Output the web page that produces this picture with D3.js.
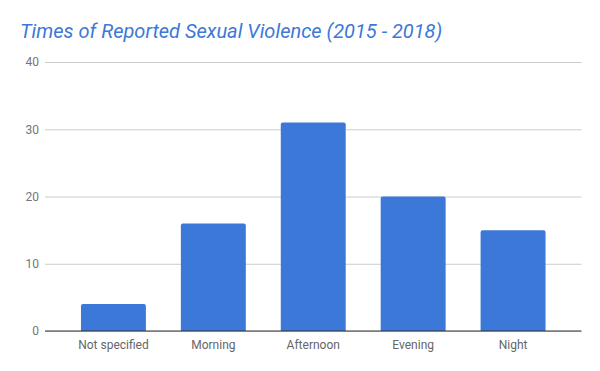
<!DOCTYPE html>
<html>
<head>
<meta charset="utf-8">
<script src="https://cdn.jsdelivr.net/npm/d3@7"></script>
<style>
  body { margin: 0; background: #fff; }
  svg { display: block; font-family: Roboto, "Noto Sans", sans-serif; }
</style>
</head>
<body>
<svg id="chart" width="600" height="371"></svg>
<script>
// data
var categories = ['Not specified', 'Morning', 'Afternoon', 'Evening', 'Night'];
var counts = [4, 16, 31, 20, 15];
var yTicks = [0, 10, 20, 30, 40];

var svg = d3.select('#chart');
var plotLeft = 45, plotRight = 581.5, plotTop = 62, plotBottom = 331;

var x = d3.scaleBand()
  .domain(categories)
  .range([plotLeft, plotRight])
  .paddingInner(0.35)
  .paddingOuter(0.36);

var y = d3.scaleLinear()
  .domain([0, 40])
  .range([plotBottom, plotTop]);

// title
svg.append('text')
  .attr('x', 20)
  .attr('y', 38)
  .attr('fill', '#3c78d8')
  .attr('font-size', '20px')
  .attr('font-style', 'italic')
  .text('Times of Reported Sexual Violence (2015 - 2018)');

// grid + y labels
var yAxis = d3.axisLeft(y)
  .tickValues(yTicks)
  .tickSize(-(plotRight - plotLeft))
  .tickPadding(6);

var gy = svg.append('g')
  .attr('transform', 'translate(' + plotLeft + ',0)')
  .call(yAxis);
gy.select('.domain').remove();
gy.selectAll('.tick line').attr('stroke', '#cccccc');
gy.selectAll('.tick text')
  .attr('fill', '#757575')
  .attr('font-size', '12px')
  .attr('font-family', 'Roboto, sans-serif');

// bars
var r = 2;
svg.append('g').selectAll('path')
  .data(counts)
  .join('path')
  .attr('fill', '#3c78d8')
  .attr('d', function(d, i) {
    var x0 = x(categories[i]), w = x.bandwidth();
    var y0 = y(d), y1 = y(0);
    return 'M' + x0 + ',' + y1 +
      'V' + (y0 + r) +
      'Q' + x0 + ',' + y0 + ' ' + (x0 + r) + ',' + y0 +
      'H' + (x0 + w - r) +
      'Q' + (x0 + w) + ',' + y0 + ' ' + (x0 + w) + ',' + (y0 + r) +
      'V' + y1 + 'Z';
  });

// x axis
var gx = svg.append('g')
  .attr('transform', 'translate(0,' + plotBottom + ')')
  .call(d3.axisBottom(x).tickSize(0).tickPadding(9));
gx.select('.domain').attr('stroke', '#333333').attr('d', 'M' + plotLeft + ',0H' + plotRight);
gx.selectAll('.tick text')
  .attr('fill', '#666666')
  .attr('font-size', '12px')
  .attr('font-family', 'Roboto, sans-serif');
</script>
</body>
</html>
